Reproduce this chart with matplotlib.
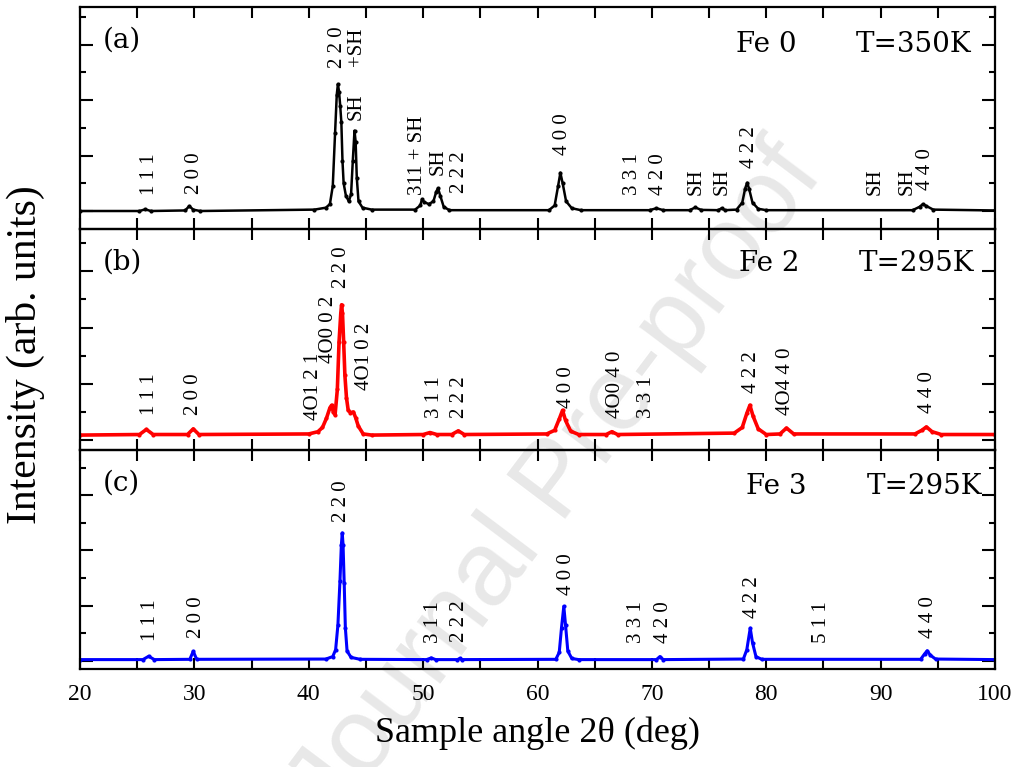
import numpy as np
import matplotlib.pyplot as plt
from matplotlib.ticker import MultipleLocator, NullFormatter

# XRD patterns, intensity in arb. units (tick units), 2theta in degrees
fe0_tt = [20, 25.2, 25.7, 26.2, 29.2, 29.55, 29.9, 30.5, 40.5, 41.5, 41.85, 42.1, 42.3, 42.45,
          42.55, 42.65, 42.75, 42.85, 42.95, 43.05, 43.25, 43.5, 43.7, 43.85, 44.0, 44.1, 44.2,
          44.35, 44.7, 45.5, 49.3, 49.75, 49.9, 50.1, 50.5, 50.9, 51.15, 51.3, 51.5, 51.8, 52.3,
          61.0, 61.5, 61.8, 62.0, 62.2, 62.5, 63.0, 63.8, 69.8, 70.4, 71.0, 73.3, 73.8, 74.3,
          75.8, 76.1, 76.4, 77.4, 77.9, 78.15, 78.33, 78.5, 78.8, 79.3, 80.0, 92.8, 93.4, 93.7,
          94.0, 94.6, 100]
fe0_int = [0.0, 0.0, 0.06, 0.0, 0.02, 0.18, 0.05, 0.0, 0.05, 0.12, 0.25, 0.9, 2.8, 4.2,
           4.58, 4.3, 3.8, 3.2, 1.8, 1.0, 0.55, 0.35, 0.6, 1.8, 2.9, 2.5, 1.2,
           0.35, 0.12, 0.05, 0.05, 0.2, 0.42, 0.32, 0.25, 0.35, 0.7, 0.82, 0.55, 0.15, 0.03,
           0.03, 0.2, 0.9, 1.38, 1.0, 0.35, 0.1, 0.03, 0.03, 0.1, 0.03, 0.03, 0.13, 0.04,
           0.03, 0.1, 0.03, 0.05, 0.3, 0.8, 1.02, 0.8, 0.3, 0.08, 0.03, 0.03, 0.15, 0.25,
           0.18, 0.05, 0.02]

fe2_tt = [20, 25.2, 25.8, 26.4, 29.4, 29.9, 30.4, 40.0, 40.8, 41.2, 41.55, 41.85, 42.0, 42.15,
          42.3, 42.5, 42.65, 42.8, 42.87, 42.95, 43.05, 43.16, 43.3, 43.45, 43.65, 43.9, 44.1,
          44.33, 44.76, 45.5, 50.0, 50.6, 51.2, 52.5, 53.07, 53.6, 60.8, 61.5, 61.9, 62.19,
          62.45, 62.9, 63.6, 66.0, 66.5, 67.0, 77.2, 77.9, 78.3, 78.57, 78.85, 79.3, 80.0,
          81.2, 81.77, 82.4, 93.0, 93.6, 94.0, 94.5, 95.3, 100]
fe2_int = [0.18, 0.2, 0.38, 0.2, 0.2, 0.4, 0.2, 0.22, 0.3, 0.45, 0.78, 1.15, 1.24, 1.0,
           0.9, 1.8, 3.5, 4.5, 4.81, 4.5, 3.5, 2.3, 1.5, 1.06, 0.98, 1.0, 0.8,
           0.5, 0.22, 0.18, 0.2, 0.27, 0.2, 0.2, 0.33, 0.2, 0.22, 0.35, 0.75, 1.06,
           0.7, 0.32, 0.2, 0.2, 0.3, 0.2, 0.25, 0.45, 0.95, 1.24, 0.85, 0.4, 0.2,
           0.22, 0.43, 0.22, 0.22, 0.35, 0.47, 0.3, 0.2, 0.2]

fe3_tt = [20, 25.5, 26.0, 26.5, 29.6, 29.9, 30.2, 41.5, 42.1, 42.35, 42.55, 42.73, 42.85, 42.93,
          43.0, 43.1, 43.2, 43.35, 43.7, 44.5, 50.3, 50.7, 51.1, 53.0, 53.2, 53.4, 61.6, 61.9,
          62.1, 62.3, 62.45, 62.65, 63.0, 63.6, 70.4, 70.7, 71.0, 78.0, 78.3, 78.6, 78.8, 79.1,
          79.6, 93.5, 93.85, 94.07, 94.35, 94.8, 100]
fe3_int = [0.04, 0.04, 0.16, 0.04, 0.05, 0.34, 0.05, 0.06, 0.15, 0.4, 1.3, 2.9, 4.2, 4.63,
           4.2, 2.8, 1.2, 0.35, 0.12, 0.05, 0.04, 0.1, 0.04, 0.04, 0.08, 0.04, 0.05, 0.3,
           1.2, 1.97, 1.3, 0.35, 0.08, 0.04, 0.04, 0.15, 0.04, 0.06, 0.4, 1.18, 0.65, 0.15,
           0.05, 0.05, 0.25, 0.36, 0.2, 0.06, 0.04]

# reflection labels: (text, 2theta, height of label foot)
fe0_labels = [("1 1 1", 26.1, 0.58), ("2 0 0", 30.05, 0.61), ("2 2 0\n+SH", 43.35, 5.16),
              ("SH", 44.1, 3.29), ("311 + SH", 49.5, 0.58), ("SH", 51.3, 1.3),
              ("2 2 2", 53.2, 0.65), ("4 0 0", 62.2, 2.02), ("3 3 1", 68.3, 0.58),
              ("4 2 0", 70.55, 0.58), ("SH", 73.9, 0.58), ("SH", 76.1, 0.58),
              ("4 2 2", 78.5, 1.55), ("SH", 89.5, 0.58), ("SH", 92.3, 0.58), ("4 4 0", 93.9, 0.76)]
fe2_labels = [("1 1 1", 26.1, 0.89), ("2 0 0", 29.9, 0.89), ("4O1 2 1", 40.4, 0.71),
              ("4O0 0 2", 41.7, 2.73), ("2 2 0", 42.9, 5.39), ("4O1 0 2", 44.9, 1.77),
              ("3 1 1", 51.0, 0.78), ("2 2 2", 53.2, 0.78), ("4 0 0", 62.5, 1.13),
              ("4O0 4 0", 66.85, 0.78), ("3 3 1", 69.5, 0.78), ("4 2 2", 78.7, 1.67),
              ("4O4 4 0", 81.7, 0.89), ("4 4 0", 94.1, 0.96)]
fe3_labels = [("1 1 1", 26.2, 0.7), ("2 0 0", 30.2, 0.83), ("2 2 0", 42.9, 5.03),
              ("3 1 1", 50.9, 0.65), ("2 2 2", 53.2, 0.69), ("4 0 0", 62.5, 2.39),
              ("3 3 1", 68.65, 0.65), ("4 2 0", 71.0, 0.65), ("4 2 2", 78.8, 1.56),
              ("5 1 1", 84.8, 0.65), ("4 4 0", 94.15, 0.84)]

panels = [
    dict(tt=fe0_tt, y=fe0_int, c='black', lw=1.8, labels=fe0_labels, ylim=(-0.65, 7.36),
         tag="(a)", name="Fe 0", temp="T=350K", tag_y=6.17, txt_y=6.0, name_x=82.67, temp_x=97.97),
    dict(tt=fe2_tt, y=fe2_int, c='#ff0000', lw=2.6, labels=fe2_labels, ylim=(-0.35, 7.5),
         tag="(b)", name="Fe 2", temp="T=295K", tag_y=6.31, txt_y=6.28, name_x=82.94, temp_x=98.2),
    dict(tt=fe3_tt, y=fe3_int, c='#0000ff', lw=2.2, labels=fe3_labels, ylim=(-0.3, 7.64),
         tag="(c)", name="Fe 3", temp="T=295K", tag_y=6.45, txt_y=6.3, name_x=83.55, temp_x=98.9),
]

fig = plt.figure(figsize=(10.24, 7.67), dpi=100)
bounds = [(0.7014, 0.9909), (0.4133, 0.7014), (0.1278, 0.4133)]
left, right = 80 / 1024, 995 / 1024

for i, (p, (b, t)) in enumerate(zip(panels, bounds)):
    ax = fig.add_axes([left, b, right - left, t - b])
    ax.patch.set_alpha(0)
    ax.plot(p['tt'], p['y'], '-o', color=p['c'], lw=p['lw'], ms=3, mew=0)
    ax.set_xlim(20, 100)
    ax.set_ylim(*p['ylim'])
    ax.xaxis.set_major_locator(MultipleLocator(10))
    ax.xaxis.set_minor_locator(MultipleLocator(5))
    ax.yaxis.set_major_locator(MultipleLocator(2))
    ax.yaxis.set_minor_locator(MultipleLocator(1))
    ax.yaxis.set_major_formatter(NullFormatter())
    ax.tick_params(which='both', direction='in', top=True, right=True, width=1.5)
    ax.tick_params(axis='y', which='major', length=9.5)
    ax.tick_params(axis='y', which='minor', length=4.5)
    ax.tick_params(axis='x', which='both', length=8)
    for s in ax.spines.values():
        s.set_linewidth(1.6)
    if i < 2:
        ax.xaxis.set_major_formatter(NullFormatter())
    else:
        ax.set_xticklabels([f"{v:g}" for v in ax.get_xticks()],
                           family='Liberation Serif', fontsize=17)
        ax.tick_params(axis='x', pad=11)
        ax.set_xlabel("Sample angle 2θ (deg)", family='Liberation Serif',
                      fontsize=26, labelpad=8)

    for txt, x, yb in p['labels']:
        ax.text(x, yb, txt, rotation=90, ha='center', va='bottom',
                family='Liberation Serif', fontsize=15, linespacing=1.0)

    ax.text(22.0, p['tag_y'], p['tag'], ha='left', va='center',
            family='DejaVu Serif', fontsize=20)
    ax.text(p['name_x'], p['txt_y'], p['name'], ha='right', va='center',
            family='DejaVu Serif', fontsize=20)
    ax.text(p['temp_x'], p['txt_y'], p['temp'], ha='right', va='center',
            family='DejaVu Serif', fontsize=20)

fig.text(0.025, 0.537, "Intensity (arb. units)", rotation=90, ha='center', va='center',
         family='Liberation Serif', fontsize=30)

# background watermark, kept behind the transparent axes
fig.text(0.545, 0.37, "Journal Pre-proof", rotation=53, ha='center', va='center',
         family='Liberation Sans', fontsize=76, color='#e8e8e8', zorder=-1)

fig.savefig("out.png", dpi=100)
